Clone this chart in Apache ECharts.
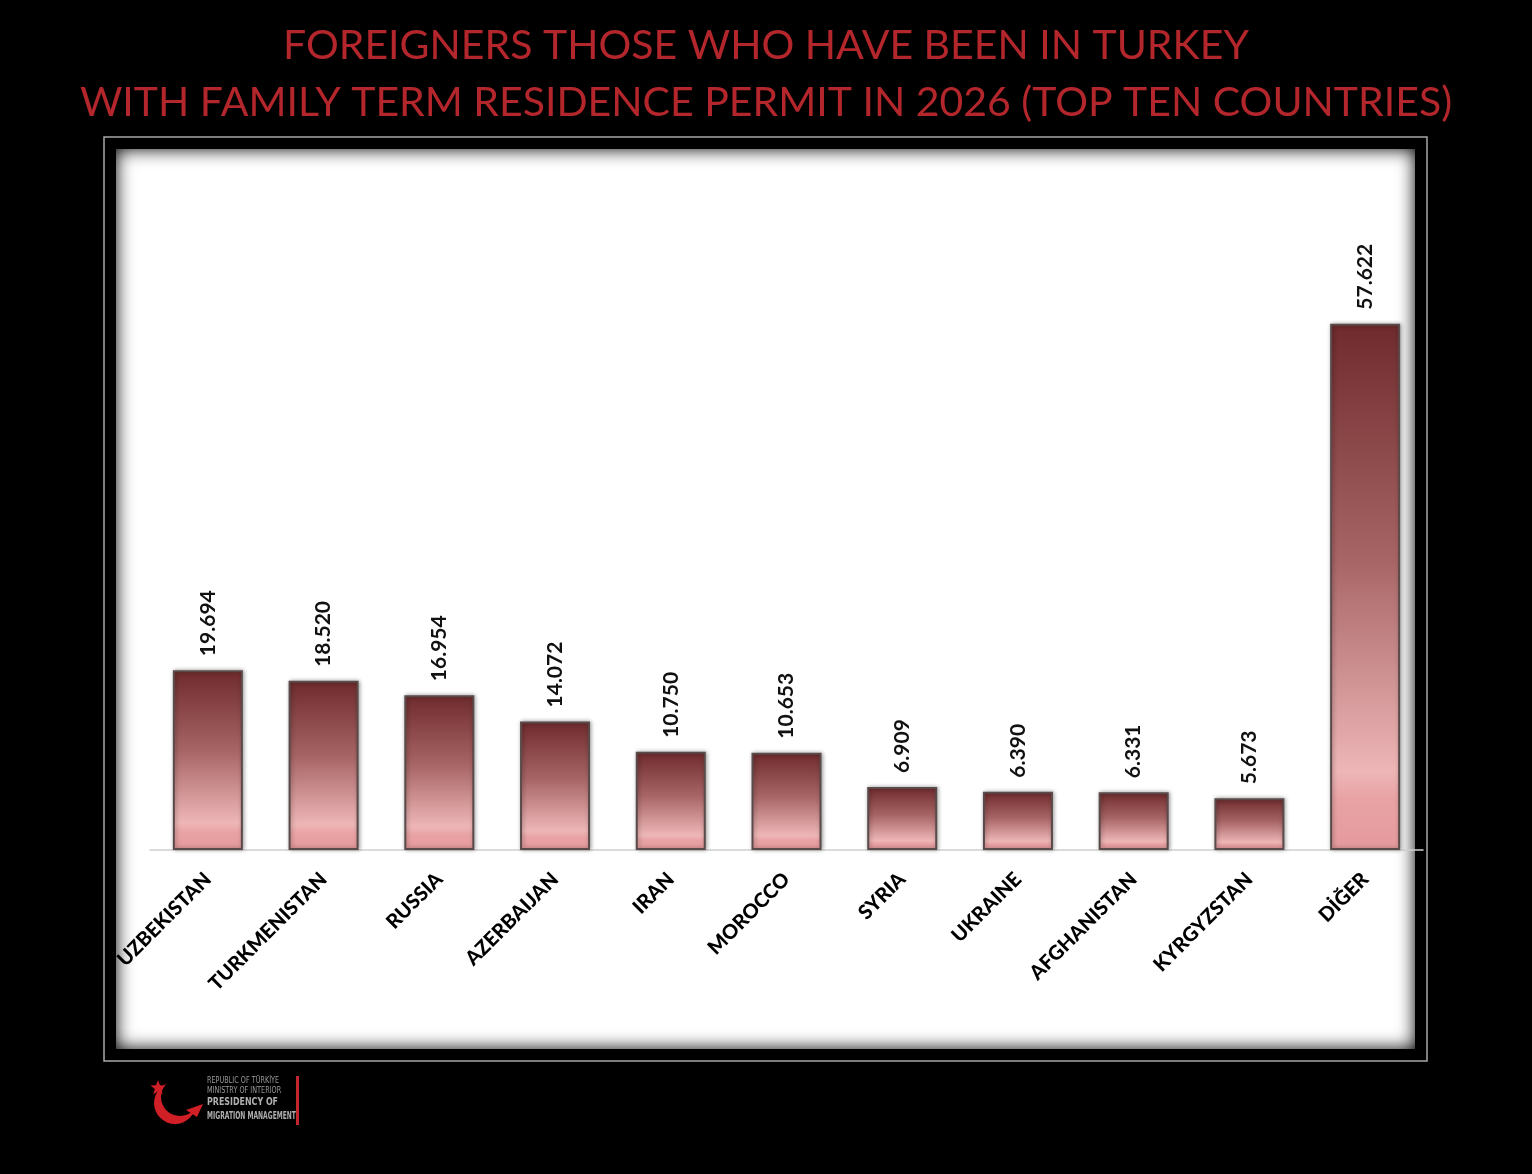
<!DOCTYPE html>
<html>
<head>
<meta charset="utf-8">
<title>Family residence permits 2026</title>
<script src="https://cdn.jsdelivr.net/npm/echarts@6/dist/echarts.min.js"></script>
<style>
  html, body { margin: 0; padding: 0; background: #000; }
  #chart { width: 1532px; height: 1174px; }
</style>
</head>
<body>
<div id="chart"></div>
<script>
// chart data
const countries = ['UZBEKISTAN', 'TURKMENISTAN', 'RUSSIA', 'AZERBAIJAN', 'IRAN', 'MOROCCO',
  'SYRIA', 'UKRAINE', 'AFGHANISTAN', 'KYRGYZSTAN', 'DİĞER']
const permits = [19694, 18520, 16954, 14072, 10750, 10653, 6909, 6390, 6331, 5673, 57622]
const titleLines = ['FOREIGNERS THOSE WHO HAVE BEEN IN TURKEY',
  'WITH FAMILY TERM RESIDENCE PERMIT IN 2026 (TOP TEN COUNTRIES)']
const logoLines = ['REPUBLIC OF TÜRKİYE', 'MINISTRY OF INTERIOR', 'PRESIDENCY OF', 'MIGRATION MANAGEMENT']

const chart = echarts.init(document.getElementById('chart'))

// 19694 -> "19.694"
const fmt = v => String(v).replace(/\B(?=(\d{3})+(?!\d))/g, '.')

const barFill = new echarts.graphic.LinearGradient(0, 0, 0, 1, [
  { offset: 0, color: '#6e2a2c' },
  { offset: 0.45, color: '#a86566' },
  { offset: 0.85, color: '#eeb6b7' },
  { offset: 0.9, color: '#e9a3a5' },
  { offset: 1, color: '#e59a9c' }
])

// small helper for the logo text lines (condensed look)
const logoText = (txt, y, font, fill, sx) => ({
  type: 'text', z: 7, x: 207, y: y, scaleX: sx, originX: 0,
  style: { text: txt, fill: fill, font: font }
})

// five-pointed star for the logo
const starPoints = (cx, cy, r) => {
  const pts = []
  for (let i = 0; i < 10; i++) {
    const a = -Math.PI / 2 + i * Math.PI / 5
    const rr = i % 2 ? r * 0.42 : r
    pts.push([cx + rr * Math.cos(a), cy + rr * Math.sin(a)])
  }
  return pts
}

const option = {
  backgroundColor: '#000',
  animation: false,
  graphic: [
    // frame: white panel with dark inner edge
    { type: 'rect', z: -10, shape: { x: 105, y: 138, width: 1321, height: 922 },
      style: { fill: '#fff' } },
    { type: 'rect', z: -9, shape: { x: 104, y: 137, width: 1323, height: 924 },
      style: { fill: null, stroke: '#000', lineWidth: 24, shadowBlur: 18, shadowColor: '#000' } },
    { type: 'rect', z: -8, shape: { x: 104, y: 137, width: 1323, height: 924 },
      style: { fill: null, stroke: '#a8a8a8', lineWidth: 1.5 } },
    // title
    { type: 'text', z: 5, left: 'center', top: 25,
      style: { text: titleLines[0], fill: '#b3262c', font: '41px Lato', textAlign: 'center' } },
    { type: 'text', z: 5, left: 'center', top: 82,
      style: { text: titleLines[1], fill: '#b3262c', font: '41px Lato', textAlign: 'center' } },
    // logo
    { type: 'circle', z: 5, shape: { cx: 175, cy: 1103, r: 21 }, style: { fill: '#d01f26' } },
    { type: 'circle', z: 6, shape: { cx: 180, cy: 1097, r: 19 }, style: { fill: '#000' } },
    { type: 'polygon', z: 7, shape: { points: [[186, 1110], [203, 1104], [197, 1117]] },
      style: { fill: '#d01f26' } },
    { type: 'polygon', z: 7, shape: { points: starPoints(158, 1088, 8) }, style: { fill: '#d01f26' } },
    logoText(logoLines[0], 1076, '9px "DejaVu Sans"', '#9a9a9a', 0.72),
    logoText(logoLines[1], 1086, '9px "DejaVu Sans"', '#9a9a9a', 0.72),
    logoText(logoLines[2], 1097, 'bold 11px "DejaVu Sans"', '#b0b0b0', 0.72),
    logoText(logoLines[3], 1111, 'bold 10px "DejaVu Sans"', '#b0b0b0', 0.6),
    { type: 'rect', z: 7, shape: { x: 296, y: 1076, width: 3, height: 49 }, style: { fill: '#c1272d' } }
  ],
  grid: { left: 150, right: 109, top: 302, height: 548, containLabel: false },
  xAxis: {
    type: 'category',
    data: countries,
    axisLine: { lineStyle: { color: '#cfcfcf', width: 1.5 } },
    axisTick: { show: false },
    axisLabel: {
      rotate: 45, interval: 0, margin: 26,
      color: '#000', fontFamily: 'Lato', fontWeight: 900, fontSize: 20
    }
  },
  yAxis: {
    type: 'value', min: 0, max: 60000,
    show: false, splitLine: { show: false }
  },
  series: [{
    type: 'bar',
    data: permits,
    barWidth: 70,
    itemStyle: {
      color: barFill,
      borderColor: '#5a4a4a',
      borderWidth: 2,
      shadowColor: 'rgba(0,0,0,0.35)',
      shadowBlur: 4,
      shadowOffsetX: 1
    },
    label: {
      show: true, position: 'top', rotate: 90, distance: 14,
      align: 'left', verticalAlign: 'middle',
      color: '#111', fontFamily: 'Lato', fontWeight: 'bold', fontSize: 21,
      formatter: p => fmt(p.value)
    }
  }]
}

chart.setOption(option)
</script>
</body>
</html>
